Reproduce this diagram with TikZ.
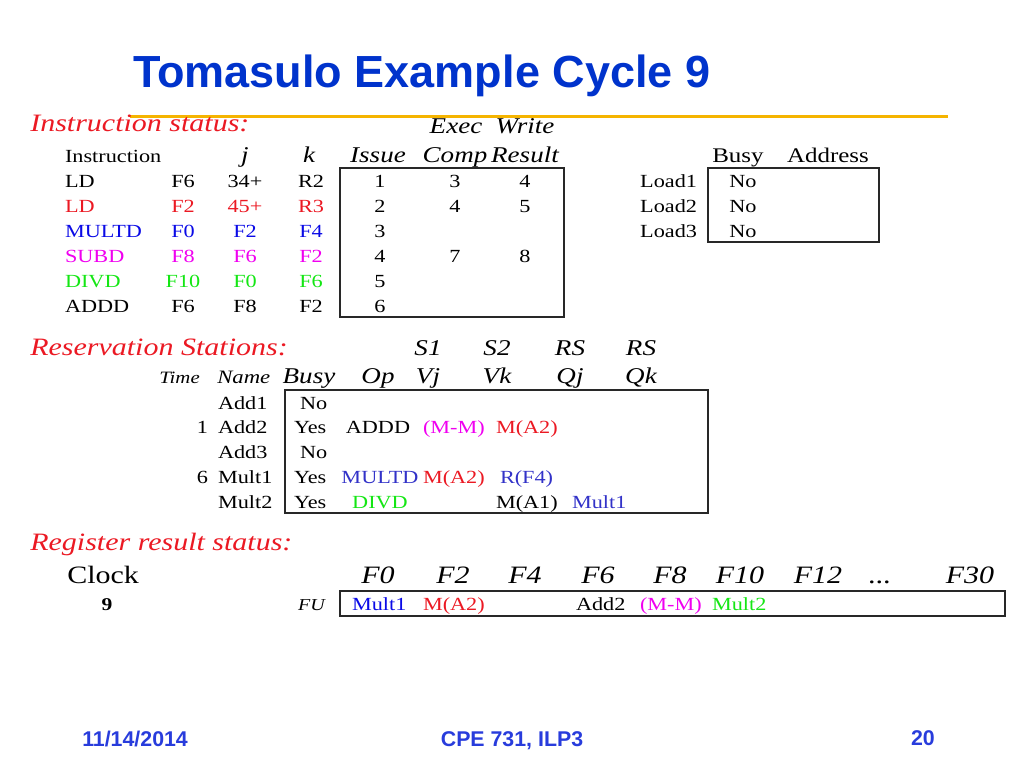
\documentclass[tikz,border=0pt]{standalone}
\usepackage{fontspec}
\setmainfont{Liberation Serif}[FakeStretch=1.2]
\newfontfamily\titlefont{Liberation Sans}
\definecolor{cred}{RGB}{235,25,35}
\definecolor{cblue}{RGB}{10,10,230}
\definecolor{rsblue}{RGB}{50,50,200}
\definecolor{cmag}{RGB}{240,0,240}
\definecolor{cgreen}{RGB}{20,230,20}
\definecolor{titleblue}{RGB}{0,51,204}
\definecolor{footblue}{RGB}{40,60,220}
\definecolor{gold}{RGB}{245,180,0}
\definecolor{boxline}{RGB}{40,40,40}
\tikzset{
  txt/.style={inner sep=0pt, outer sep=0pt, font=\fontsize{13.9}{16}\selectfont},
  L/.style={txt, anchor=base west},
  C/.style={txt, anchor=base},
  R/.style={txt, anchor=base east},
  sec/.style={inner sep=0pt, anchor=base west, text=cred, font=\fontsize{18.75}{22}\selectfont\itshape},
  hdr/.style={inner sep=0pt, anchor=base, font=\fontsize{16.9}{20}\selectfont\itshape},
  reghdr/.style={inner sep=0pt, anchor=base, font=\fontsize{18.75}{22}\selectfont\itshape},
  tbox/.style={draw=boxline, line width=0.9pt},
  foot/.style={inner sep=0pt, text=footblue, font=\titlefont\bfseries\fontsize{16}{18}\selectfont},
}
\begin{document}
\begin{tikzpicture}[x=0.75pt,y=-0.75pt]
\useasboundingbox (0,0) rectangle (1024,768);
% title
\node[inner sep=0pt, anchor=base west, text=titleblue, font=\titlefont\bfseries\fontsize{33.75}{40}\selectfont] (title) at (133,87) {Tomasulo Example Cycle 9};
\coordinate (gl) at (130,116);
\coordinate (gr) at (948,116);
\draw[gold, line width=2.25pt] (gl) -- (gr);

% ---------- Instruction status ----------
\node[sec] (isec) at (30,131) {Instruction status:};
\node[hdr] (hexec) at (456,133) {Exec};
\node[hdr] (hwrite) at (525,133) {Write};
\node[L] (hinstr) at (65,162) {Instruction};
\node[hdr] (hj) at (245,162) {j};
\node[hdr] (hk) at (309,162) {k};
\node[hdr] (hissue) at (378,162) {Issue};
\node[hdr] (hcomp) at (455,162) {Comp};
\node[hdr] (hres) at (525,162) {Result};
\node[C, font=\fontsize{15.6}{18}\selectfont] (hbusy) at (738,162) {Busy};
\node[C, font=\fontsize{15.6}{18}\selectfont] (haddr) at (828,162) {Address};

% rows
\node[L] (i1op) at (65,187) {LD};
\node[C] (i1d) at (183,187) {F6};
\node[C] (i1j) at (245,187) {34+};
\node[C] (i1k) at (311,187) {R2};
\node[C] (i1is) at (380,187) {1};
\node[C] (i1ex) at (455,187) {3};
\node[C] (i1wr) at (525,187) {4};

\node[L, text=cred] (i2op) at (65,212) {LD};
\node[C, text=cred] (i2d) at (183,212) {F2};
\node[C, text=cred] (i2j) at (245,212) {45+};
\node[C, text=cred] (i2k) at (311,212) {R3};
\node[C] (i2is) at (380,212) {2};
\node[C] (i2ex) at (455,212) {4};
\node[C] (i2wr) at (525,212) {5};

\node[L, text=cblue] (i3op) at (65,237) {MULTD};
\node[C, text=cblue] (i3d) at (183,237) {F0};
\node[C, text=cblue] (i3j) at (245,237) {F2};
\node[C, text=cblue] (i3k) at (311,237) {F4};
\node[C] (i3is) at (380,237) {3};

\node[L, text=cmag] (i4op) at (65,262) {SUBD};
\node[C, text=cmag] (i4d) at (183,262) {F8};
\node[C, text=cmag] (i4j) at (245,262) {F6};
\node[C, text=cmag] (i4k) at (311,262) {F2};
\node[C] (i4is) at (380,262) {4};
\node[C] (i4ex) at (455,262) {7};
\node[C] (i4wr) at (525,262) {8};

\node[L, text=cgreen] (i5op) at (65,287) {DIVD};
\node[C, text=cgreen] (i5d) at (183,287) {F10};
\node[C, text=cgreen] (i5j) at (245,287) {F0};
\node[C, text=cgreen] (i5k) at (311,287) {F6};
\node[C] (i5is) at (380,287) {5};

\node[L] (i6op) at (65,312) {ADDD};
\node[C] (i6d) at (183,312) {F6};
\node[C] (i6j) at (245,312) {F8};
\node[C] (i6k) at (311,312) {F2};
\node[C] (i6is) at (380,312) {6};

\draw[tbox] (340,168) rectangle (564,317);

% load buffers
\node[R] (ld1) at (697,187) {Load1};
\node[R] (ld2) at (697,212) {Load2};
\node[R] (ld3) at (697,237) {Load3};
\node[C] (ld1b) at (743,187) {No};
\node[C] (ld2b) at (743,212) {No};
\node[C] (ld3b) at (743,237) {No};
\draw[tbox] (708,168) rectangle (879,242);

% ---------- Reservation stations ----------
\node[sec] (rsec) at (30,355) {Reservation Stations:};
\node[hdr] (hs1) at (428,355) {S1};
\node[hdr] (hs2) at (497,355) {S2};
\node[hdr] (hrs1) at (570,355) {RS};
\node[hdr] (hrs2) at (641,355) {RS};
\node[inner sep=0pt, anchor=base east, font=\fontsize{13}{15}\selectfont\itshape] (htime) at (200,383) {Time};
\node[inner sep=0pt, anchor=base west, font=\fontsize{14.2}{16}\selectfont\itshape] (hname) at (217,383) {Name};
\node[hdr] (hbusy2) at (309,383) {Busy};
\node[hdr] (hop) at (378,383) {Op};
\node[hdr] (hvj) at (428,383) {Vj};
\node[hdr] (hvk) at (497,383) {Vk};
\node[hdr] (hqj) at (570,383) {Qj};
\node[hdr] (hqk) at (641,383) {Qk};

\node[L] (r1n) at (218,409) {Add1};
\node[L] (r1b) at (300,409) {No};

\node[R] (r2t) at (208,433) {1};
\node[L] (r2n) at (218,433) {Add2};
\node[L] (r2b) at (294,433) {Yes};
\node[C] (r2op) at (378,433) {ADDD};
\node[L, text=cmag] (r2vj) at (423,433) {(M-M)};
\node[L, text=cred] (r2vk) at (496,433) {M(A2)};

\node[L] (r3n) at (218,458) {Add3};
\node[L] (r3b) at (300,458) {No};

\node[R] (r4t) at (208,483) {6};
\node[L] (r4n) at (218,483) {Mult1};
\node[L] (r4b) at (294,483) {Yes};
\node[C, text=rsblue] (r4op) at (380,483) {MULTD};
\node[L, text=cred] (r4vj) at (423,483) {M(A2)};
\node[L, text=rsblue] (r4vk) at (500,483) {R(F4)};

\node[L] (r5n) at (218,508) {Mult2};
\node[L] (r5b) at (294,508) {Yes};
\node[C, text=cgreen] (r5op) at (380,508) {DIVD};
\node[L] (r5vk) at (496,508) {M(A1)};
\node[L, text=rsblue] (r5qj) at (572,508) {Mult1};

\draw[tbox] (285,390) rectangle (708,513);

% ---------- Register result status ----------
\node[sec] (regsec) at (30,550) {Register result status:};
\node[inner sep=0pt, anchor=base west, font=\fontsize{18.75}{22}\selectfont] (clock) at (67,583) {Clock};
\node[reghdr] (f0) at (378,583) {F0};
\node[reghdr] (f2) at (453,583) {F2};
\node[reghdr] (f4) at (525,583) {F4};
\node[reghdr] (f6) at (598,583) {F6};
\node[reghdr] (f8) at (670,583) {F8};
\node[reghdr] (f10) at (740,583) {F10};
\node[reghdr] (f12) at (818,583) {F12};
\node[reghdr] (fdots) at (880,583) {...};
\node[reghdr] (f30) at (970,583) {F30};
\node[inner sep=0pt, anchor=base, font=\fontsize{13.5}{16}\selectfont\bfseries] (cyc) at (107,610) {9};
\node[inner sep=0pt, anchor=base east, font=\fontsize{12.5}{15}\selectfont\itshape] (fu) at (325,610) {FU};
\node[L, text=cblue] (g0) at (352,610) {Mult1};
\node[L, text=cred] (g2) at (423,610) {M(A2)};
\node[L] (g6) at (576,610) {Add2};
\node[L, text=cmag] (g8) at (640,610) {(M-M)};
\node[L, text=cgreen] (g10) at (712,610) {Mult2};
\draw[tbox] (340,591) rectangle (1005,616);

% ---------- footer ----------
\node[foot, anchor=base west] (fdate) at (82,746) {11/14/2014};
\node[foot, anchor=base] (fcourse) at (512,746) {CPE 731, ILP3};
\node[foot, anchor=base east] (fpage) at (935,745) {20};
\end{tikzpicture}
\end{document}
